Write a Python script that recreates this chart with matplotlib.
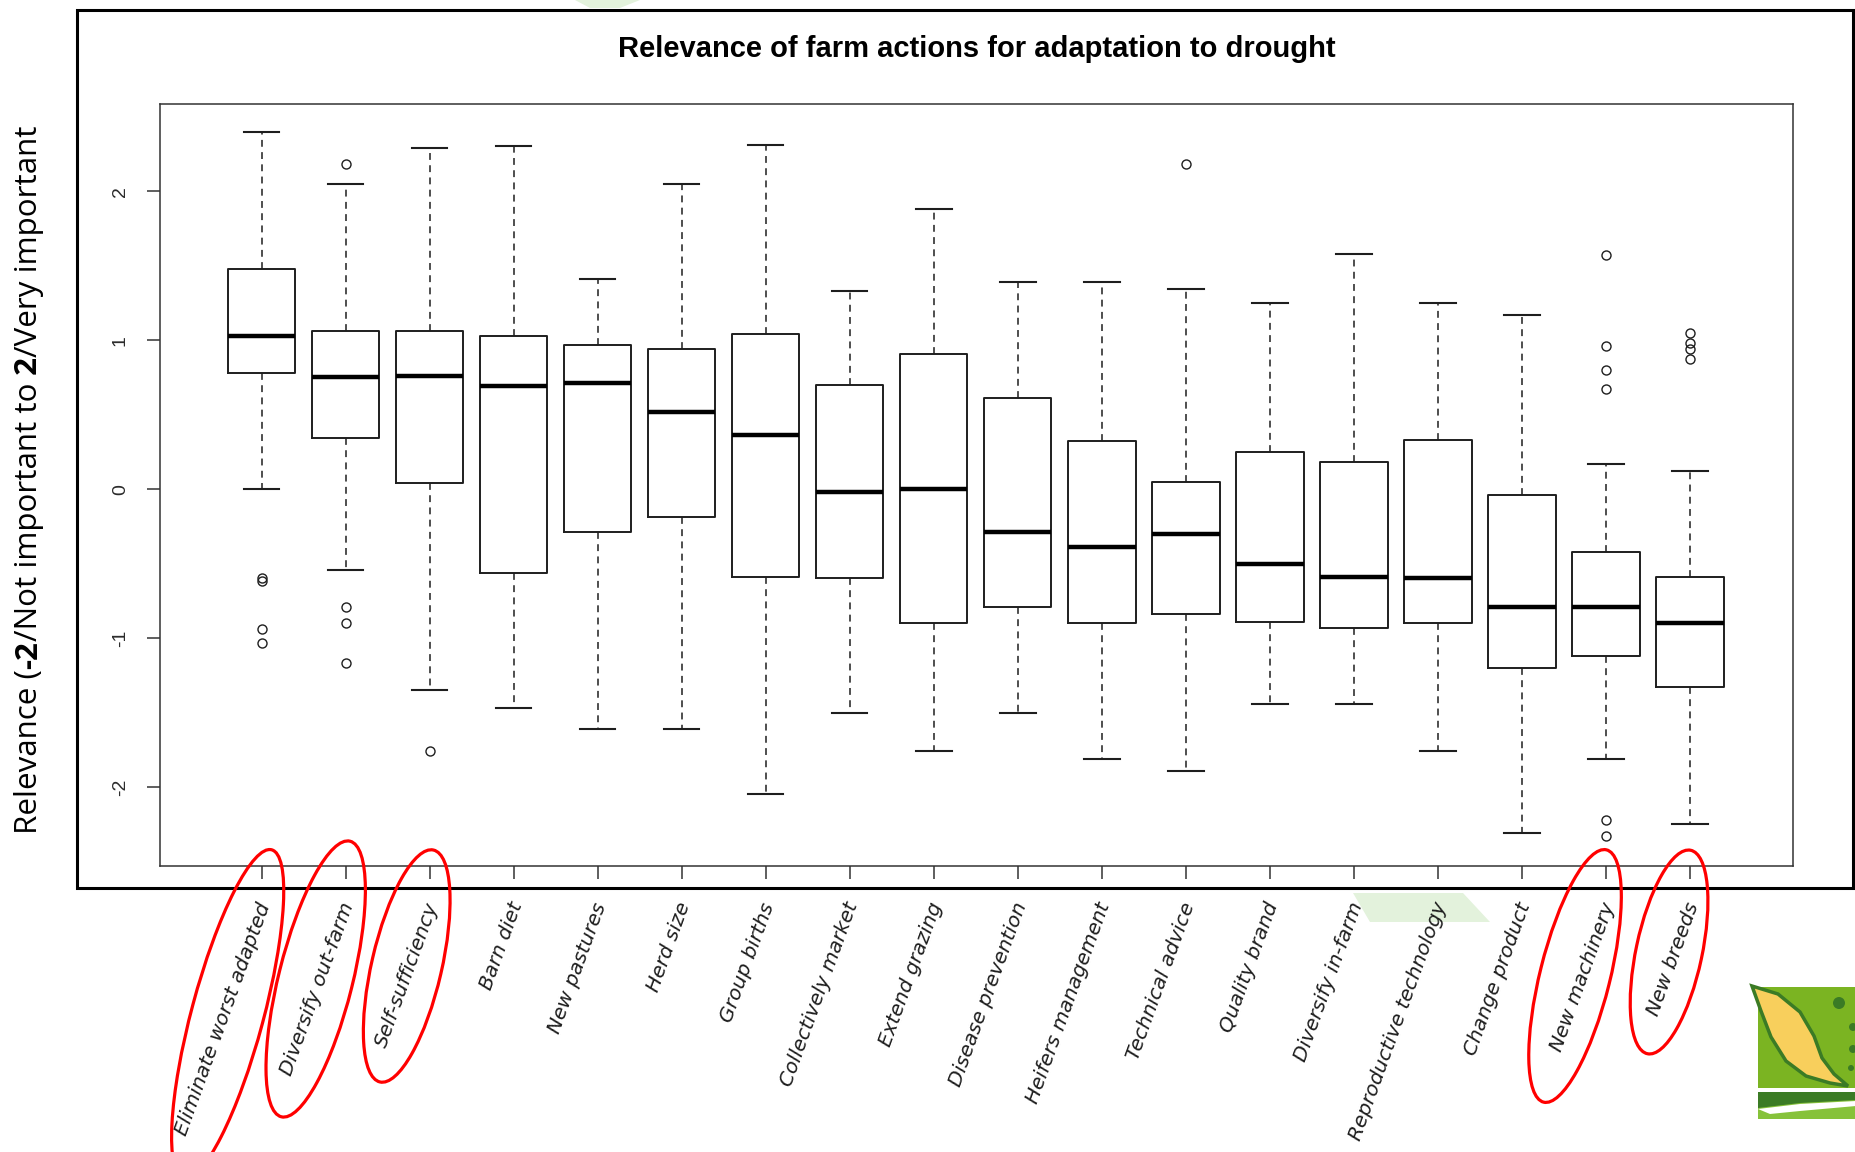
import matplotlib
matplotlib.use("Agg")
import matplotlib.pyplot as plt
from matplotlib import font_manager
from matplotlib.patches import Rectangle, Ellipse, Polygon, Circle
from matplotlib.transforms import IdentityTransform, blended_transform_factory

W, H, DPI = 1856, 1152, 100

# --- survey results: relevance score per farm action -------------------------
actions = [
    "Eliminate worst adapted", "Diversify out-farm", "Self-sufficiency",
    "Barn diet", "New pastures", "Herd size", "Group births",
    "Collectively market", "Extend grazing", "Disease prevention",
    "Heifers management", "Technical advice", "Quality brand",
    "Diversify in-farm", "Reproductive technology", "Change product",
    "New machinery", "New breeds",
]
whislo = [0.00, -0.54, -1.35, -1.47, -1.61, -1.61, -2.05, -1.50, -1.76,
          -1.50, -1.81, -1.89, -1.44, -1.44, -1.76, -2.31, -1.81, -2.25]
q1 = [0.78, 0.34, 0.04, -0.56, -0.29, -0.19, -0.59, -0.60, -0.90,
      -0.79, -0.90, -0.84, -0.89, -0.93, -0.90, -1.20, -1.12, -1.33]
med = [1.03, 0.75, 0.76, 0.69, 0.71, 0.52, 0.36, -0.02, 0.00,
       -0.29, -0.39, -0.30, -0.50, -0.59, -0.60, -0.79, -0.79, -0.90]
q3 = [1.48, 1.06, 1.06, 1.03, 0.97, 0.94, 1.04, 0.70, 0.91,
      0.61, 0.32, 0.05, 0.25, 0.18, 0.33, -0.04, -0.42, -0.59]
whishi = [2.40, 2.05, 2.29, 2.30, 1.41, 2.05, 2.31, 1.33, 1.88,
          1.39, 1.39, 1.34, 1.25, 1.58, 1.25, 1.17, 0.17, 0.12]
outliers = [
    [-0.60, -0.62, -0.94, -1.03],
    [2.18, -0.79, -0.90, -1.17],
    [-1.76],
    [], [], [], [], [], [], [], [],
    [2.18],
    [], [], [], [],
    [1.57, 0.96, 0.80, 0.67, -2.22, -2.33],
    [1.05, 0.98, 0.94, 0.87],
]
y_ticks = [-2, -1, 0, 1, 2]
title = "Relevance of farm actions for adaptation to drought"
ylabel_parts = [("Relevance (", "normal"), ("-2", "bold"),
                ("/Not important to", "normal"), (" 2", "bold"),
                ("/Very important", "normal")]
circled = [0, 1, 2, 16, 17]

INK = "#1e1e1e"
installed = {f.name for f in font_manager.fontManager.ttflist}
narrow = "Liberation Sans Narrow" if "Liberation Sans Narrow" in installed else "Open Sans"


def disp(x, y):
    """pixel position measured from the top-left corner -> display coords"""
    return (x, H - y)


fig = plt.figure(figsize=(W / DPI, H / DPI), dpi=DPI)
fig.patch.set_facecolor("white")

# faint green slide decorations behind the chart
for pts in ([(575, 0), (640, 0), (620, 8), (590, 8)],
            [(1353, 893), (1463, 893), (1490, 922), (1370, 922)]):
    fig.add_artist(Polygon([disp(*p) for p in pts], closed=True, fc="#e3f2dc",
                           ec="none", transform=IdentityTransform(), zorder=0))

ax = fig.add_axes([160 / W, 1 - 866 / H, 1633 / W, 762 / H])
n = len(actions)
pos = list(range(1, n + 1))
stats = [dict(med=med[i], q1=q1[i], q3=q3[i], whislo=whislo[i],
              whishi=whishi[i], fliers=outliers[i]) for i in range(n)]
ax.bxp(stats, positions=pos, widths=0.8, capwidths=0.42, showfliers=True,
       boxprops=dict(color=INK, lw=1.4),
       medianprops=dict(color="black", lw=3.2, solid_capstyle="butt"),
       whiskerprops=dict(color=INK, lw=1.1, linestyle=(0, (4.5, 3.5))),
       capprops=dict(color=INK, lw=1.5),
       flierprops=dict(marker="o", mfc="none", mec=INK, ms=6.5, mew=1.0))

ax.set_xlim(-0.21, n + 1.225)
ax.set_ylim(-2.53, 2.585)
ax.set_xticks(pos)
ax.set_xticklabels([""] * n)
ax.set_yticks(y_ticks)
ax.set_yticklabels([str(v) for v in y_ticks], rotation=90, va="center",
                   family="Liberation Sans", fontsize=14, color="#2b2b2b")
ax.tick_params(axis="both", length=9.5, width=1.1, color="#333333", direction="out")
ax.tick_params(axis="y", pad=13)
for sp in ax.spines.values():
    sp.set_color("#333333")
    sp.set_linewidth(1.1)

# rotated category labels hanging under the plot frame
lab_tf = blended_transform_factory(ax.transData, fig.transFigure)
for i, name in enumerate(actions):
    ax.text(pos[i] + 0.04, 1 - 903 / H, name, transform=lab_tf, rotation=70,
            rotation_mode="anchor", ha="right", va="center", fontsize=14.5,
            family="DejaVu Sans", style="italic", color=INK, clip_on=False)

# outer plot-region frame
fig.add_artist(Rectangle((77 / W, 1 - 888 / H), 1776 / W, 878.5 / H,
                         transform=fig.transFigure, fill=False, ec="black",
                         lw=2.2, zorder=5))

fig.text((160 + 1633 / 2) / W, 1 - 49 / H, title, ha="center", va="center",
         family="Liberation Sans", fontweight="bold", fontsize=21, color="black")

# y label with bold end-points, laid out piece by piece
renderer = fig.canvas.get_renderer()


def draw_ylabel(size):
    y = H - 834
    arts = []
    for s, w in ylabel_parts:
        t = fig.text(37 / W, y / H, s, rotation=90, rotation_mode="anchor",
                     ha="left", va="baseline", fontsize=size, fontweight=w,
                     family=narrow, color="black")
        arts.append(t)
        y += t.get_window_extent(renderer).height
    return arts, y - (H - 834)


arts, length = draw_ylabel(24)
for a in arts:
    a.remove()
draw_ylabel(24 * 710 / length)

# highlighted categories
for i in circled:
    tx = ax.transData.transform((pos[i], 0))[0]
    dx, cy, a, b, ang = {0: (-34, 1014, 170, 36, 75),
                         1: (-30, 979, 142, 37, 76),
                         2: (-23, 966, 119, 35, 77),
                         16: (-31, 976, 130, 35, 76),
                         17: (-21, 952, 104, 33, 78)}[i]
    fig.add_artist(Ellipse(disp(tx + dx, cy), 2 * a, 2 * b, angle=ang,
                           transform=IdentityTransform(), fill=False,
                           ec="#ff0000", lw=2.3, zorder=10))

# small leaf logo in the corner
logo = [
    Rectangle(disp(1758, 1088), 98, 101, fc="#7bb422", ec="none"),
    Polygon([disp(*p) for p in [(1752, 986), (1778, 994), (1800, 1012),
                                (1814, 1036), (1822, 1058), (1834, 1074),
                                (1848, 1086), (1830, 1083), (1806, 1076),
                                (1786, 1061), (1771, 1037), (1761, 1011)]],
            closed=True, fc="#f8cf5c", ec="#3b7b25", lw=2.5),
    Circle(disp(1839, 1003), 6, fc="#3b7b25", ec="none"),
    Circle(disp(1853, 1027), 4, fc="#3b7b25", ec="none"),
    Circle(disp(1853, 1049), 4, fc="#3b7b25", ec="none"),
    Circle(disp(1851, 1068), 3, fc="#3b7b25", ec="none"),
    Rectangle(disp(1758, 1119), 98, 27, fc="#86c23a", ec="none"),
    Polygon([disp(*p) for p in [(1758, 1092), (1856, 1092), (1856, 1100),
                                (1800, 1103), (1758, 1108)]],
            closed=True, fc="#3b7b25", ec="none"),
    Polygon([disp(*p) for p in [(1758, 1109), (1800, 1104), (1856, 1101),
                                (1856, 1106), (1800, 1111), (1770, 1114)]],
            closed=True, fc="white", ec="none"),
]
for p in logo:
    p.set_transform(IdentityTransform())
    p.set_zorder(6)
    fig.add_artist(p)

fig.savefig("out.png", dpi=DPI, facecolor="white")
